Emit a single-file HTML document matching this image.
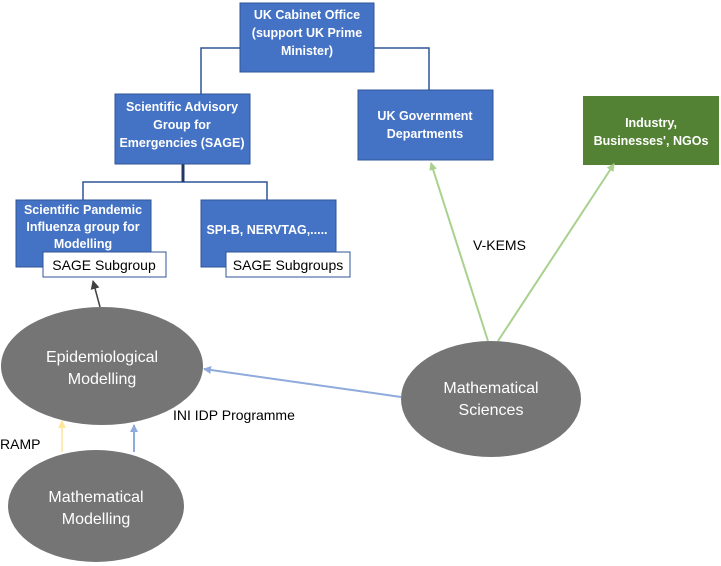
<!DOCTYPE html>
<html><head><meta charset="utf-8"><style>
html,body{margin:0;padding:0;background:#fff}
svg{display:block}
.b{font-family:"Liberation Sans",sans-serif;font-weight:bold;fill:#fff;font-size:12.5px;text-anchor:middle}
.e{font-family:"Liberation Sans",sans-serif;fill:#fff;font-size:16px;text-anchor:middle}
.k{font-family:"Liberation Sans",sans-serif;fill:#000;font-size:14px}
</style></head><body>
<svg width="721" height="566" viewBox="0 0 721 566" xmlns="http://www.w3.org/2000/svg">
<defs>
<marker id="ag" markerWidth="8" markerHeight="8" refX="7" refY="4" orient="auto" markerUnits="userSpaceOnUse"><path d="M0,0 L8,4 L0,8 z" fill="#a9d18e"/></marker>
<marker id="ab" markerWidth="8" markerHeight="8" refX="7" refY="4" orient="auto" markerUnits="userSpaceOnUse"><path d="M0,0 L8,4 L0,8 z" fill="#8faadc"/></marker>
<marker id="ay" markerWidth="8" markerHeight="8" refX="7" refY="4" orient="auto" markerUnits="userSpaceOnUse"><path d="M0,0 L8,4 L0,8 z" fill="#ffe699"/></marker>
<marker id="ak" markerWidth="9" markerHeight="9" refX="8" refY="4.5" orient="auto" markerUnits="userSpaceOnUse"><path d="M0,0 L9,4.5 L0,9 z" fill="#404040"/></marker>
</defs>
<g stroke="#2f5597" stroke-width="1.5" fill="none">
<path d="M240,48 H201 V94"/>
<path d="M374,48 H429 V90"/>
<path d="M83,200 V182 H267 V200"/>
</g>
<line x1="183" y1="164" x2="183" y2="182" stroke="#1f3864" stroke-width="3"/>
<g fill="#4472c4" stroke="#2f5597" stroke-width="1">
<rect x="240" y="3" width="134" height="69"/>
<rect x="115" y="94" width="135" height="70"/>
<rect x="358" y="90" width="135" height="70"/>
<rect x="16" y="200" width="135" height="67"/>
<rect x="201" y="200" width="135" height="67"/>
</g>
<rect x="583" y="96" width="136" height="69" fill="#548235"/>
<text class="b"><tspan x="307" y="19">UK Cabinet Office</tspan><tspan x="307" y="37">(support UK Prime</tspan><tspan x="307" y="55">Minister)</tspan></text>
<text class="b"><tspan x="182" y="111">Scientific Advisory</tspan><tspan x="182" y="129">Group for</tspan><tspan x="182" y="147">Emergencies (SAGE)</tspan></text>
<text class="b"><tspan x="425" y="120">UK Government</tspan><tspan x="425" y="138">Departments</tspan></text>
<text class="b"><tspan x="651" y="127">Industry,</tspan><tspan x="651" y="145">Businesses', NGOs</tspan></text>
<text class="b"><tspan x="83" y="214">Scientific Pandemic</tspan><tspan x="83" y="231">Influenza group for</tspan><tspan x="83" y="248">Modelling</tspan></text>
<text class="b"><tspan x="267" y="234">SPI-B, NERVTAG,.....</tspan></text>
<rect x="43" y="252" width="123" height="25" fill="#fff" stroke="#2f5597" stroke-width="1"/>
<rect x="226" y="252" width="124" height="25" fill="#fff" stroke="#2f5597" stroke-width="1"/>
<text class="k" x="104" y="270" text-anchor="middle" font-size="14">SAGE Subgroup</text>
<text class="k" x="288" y="270" text-anchor="middle" font-size="14">SAGE Subgroups</text>
<line x1="100" y1="307" x2="93" y2="281" stroke="#404040" stroke-width="1.5" marker-end="url(#ak)"/>
<line x1="488" y1="341" x2="431" y2="163" stroke="#a9d18e" stroke-width="2" marker-end="url(#ag)"/>
<line x1="498" y1="341" x2="614" y2="164" stroke="#a9d18e" stroke-width="2" marker-end="url(#ag)"/>
<line x1="401" y1="397" x2="204" y2="369" stroke="#8faadc" stroke-width="2" marker-end="url(#ab)"/>
<line x1="134" y1="452" x2="134" y2="425" stroke="#8faadc" stroke-width="2" marker-end="url(#ab)"/>
<line x1="62" y1="452" x2="62" y2="421" stroke="#ffe699" stroke-width="1.5" marker-end="url(#ay)"/>
<ellipse cx="102" cy="366" rx="101" ry="59" fill="#757575"/>
<ellipse cx="96" cy="506" rx="88" ry="56" fill="#757575"/>
<ellipse cx="491" cy="399" rx="90" ry="58" fill="#757575"/>
<text class="e"><tspan x="102" y="362">Epidemiological</tspan><tspan x="102" y="384">Modelling</tspan></text>
<text class="e"><tspan x="96" y="502">Mathematical</tspan><tspan x="96" y="524">Modelling</tspan></text>
<text class="e"><tspan x="491" y="393">Mathematical</tspan><tspan x="491" y="415">Sciences</tspan></text>
<text class="k" x="473" y="250">V-KEMS</text>
<text class="k" x="173" y="420">INI IDP Programme</text>
<text class="k" x="0" y="449">RAMP</text>
</svg>
</body></html>
